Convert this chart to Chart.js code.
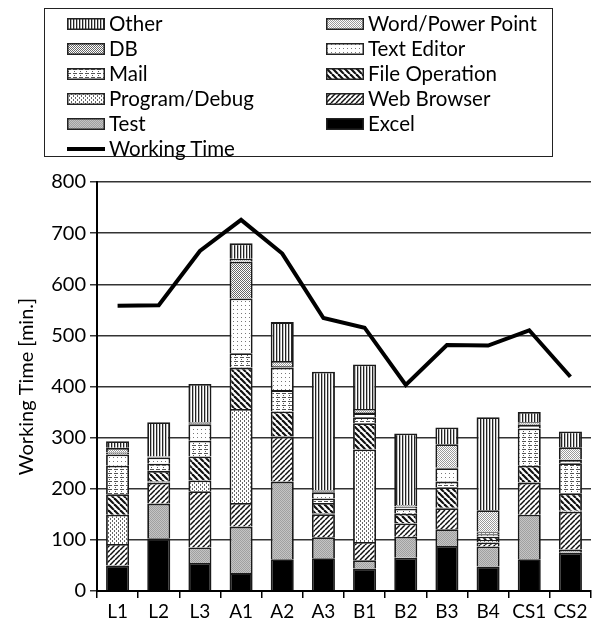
<!DOCTYPE html>
<html>
<head>
<meta charset="utf-8">
<script src="https://cdn.jsdelivr.net/npm/chart.js@4/dist/chart.umd.min.js"></script>
<style>
  html, body { margin: 0; padding: 0; background: #fff; }
  #wrap { position: relative; width: 594px; height: 632px; overflow: hidden; }
  #c { position: absolute; left: 0; top: 0; }
  #legend { position: absolute; left: 44px; top: 8px; width: 509px; height: 149px;
    border: 1.5px solid #222; box-sizing: border-box; font-family: Lato, sans-serif; font-size: 20.5px; color: #000; }
  .item { position: absolute; height: 25px; line-height: 25px; white-space: nowrap; }
  .item canvas { position: absolute; top: 7px; left: 0; }
  .item span { position: absolute; left: 42px; top: 0; }
</style>
</head>
<body>
<div id="wrap">
  <canvas id="c" width="594" height="632"></canvas>
  <div id="legend"></div>
</div>
<script>
const categories = ['L1','L2','L3','A1','A2','A3','B1','B2','B3','B4','CS1','CS2'];
const excel          = [50,103,55,35,62,64,44,65,88,48,62,75];
const test           = [0,68,30,91,152,41,16,41,33,39,87,6];
const webBrowser     = [42,41,110,46,88,45,36,26,41,8,63,74];
const programDebug   = [57,2,21,184,1,2,181,1,1,5,1,2];
const fileOperation  = [40,21,47,81,48,20,51,18,40,6,32,34];
const mail           = [56,14,31,28,42,9,12,10,11,5,73,59];
const textEditor     = [22,12,32,107,44,12,8,4,26,4,7,6];
const db             = [4,1,2,72,3,2,2,1,1,1,2,1];
const wordPowerPoint = [9,1,2,6,10,2,6,2,46,42,3,24];
const other          = [13,67,75,30,76,232,87,140,33,182,20,31];
const workingTime    = [558,559,665,726,660,534,515,403,481,480,510,419];
const yTicks = [0,100,200,300,400,500,600,700,800];

// ---- patterns ----
function pat(w, h, draw) {
  const c = document.createElement('canvas');
  c.width = w; c.height = h;
  const x = c.getContext('2d');
  x.fillStyle = '#fff'; x.fillRect(0, 0, w, h);
  draw(x);
  return document.createElement('canvas').getContext('2d').createPattern(c, 'repeat');
}
function px(x, col, pts) { x.fillStyle = col; pts.forEach(p => x.fillRect(p[0], p[1], 1, 1)); }
const patterns = {
  excel: '#000',
  test: pat(2, 2, x => { x.fillStyle = '#c4c4c4'; x.fillRect(0,0,2,2); px(x, '#a0a0a0', [[0,0],[1,1]]); }),
  web: pat(5, 5, x => { x.strokeStyle = '#111'; x.lineWidth = 1.5;
    for (let k = -5; k <= 10; k += 5) { x.beginPath(); x.moveTo(k, 5); x.lineTo(k + 5, 0); x.stroke(); } }),
  pd: pat(4, 4, x => px(x, '#666', [[0,0],[0,1],[2,2],[2,3]])),
  fo: pat(6, 6, x => { x.strokeStyle = '#111'; x.lineWidth = 2.2;
    for (let k = -6; k <= 12; k += 6) { x.beginPath(); x.moveTo(k, 0); x.lineTo(k + 6, 6); x.stroke(); } }),
  mail: pat(6, 4, x => px(x, '#555', [[0,1],[1,1],[2,1],[3,1],[1,3]])),
  te: pat(4, 4, x => px(x, '#777', [[1,1]])),
  db: pat(2, 2, x => px(x, '#666', [[0,0],[1,1]])),
  word: pat(2, 2, x => px(x, '#9a9a9a', [[0,0],[1,1]])),
  other: pat(3, 1, x => { px(x, '#222', [[0,0]]); px(x, '#bbb', [[1,0]]); })
};

const series = [
  { label: 'Excel', data: excel, bg: patterns.excel },
  { label: 'Test', data: test, bg: patterns.test },
  { label: 'Web Browser', data: webBrowser, bg: patterns.web },
  { label: 'Program/Debug', data: programDebug, bg: patterns.pd },
  { label: 'File Operation', data: fileOperation, bg: patterns.fo },
  { label: 'Mail', data: mail, bg: patterns.mail },
  { label: 'Text Editor', data: textEditor, bg: patterns.te },
  { label: 'DB', data: db, bg: patterns.db },
  { label: 'Word/Power Point', data: wordPowerPoint, bg: patterns.word },
  { label: 'Other', data: other, bg: patterns.other }
];

const datasets = series.map(s => ({
  type: 'bar', label: s.label, data: s.data, backgroundColor: s.bg,
  borderColor: '#1a1a1a', borderWidth: 1.8, stack: 'apps',
  barPercentage: 0.56, categoryPercentage: 1.0, order: 2
}));
datasets.push({
  type: 'line', label: 'Working Time', data: workingTime, borderColor: '#000',
  borderWidth: 4, pointRadius: 0, tension: 0, fill: false, stack: 'wt', order: 1,
  borderJoinStyle: 'miter'
});

Chart.defaults.font.family = 'Lato, sans-serif';
Chart.defaults.color = '#000';

new Chart(document.getElementById('c'), {
  data: { labels: categories, datasets },
  options: {
    responsive: false, animation: false,
    layout: { padding: { top: 182, right: 3, bottom: 0, left: 0 } },
    plugins: { legend: { display: false }, tooltip: { enabled: false } },
    scales: {
      x: {
        stacked: true, offset: true,
        grid: { display: true, drawOnChartArea: false, tickLength: 7, color: '#000', lineWidth: 1.5, offset: true },
        border: { color: '#000', width: 2 },
        ticks: { font: { size: 19 }, padding: 2 },
        afterFit: s => { s.height = 41; }
      },
      y: {
        stacked: true, min: 0, max: 800,
        afterBuildTicks: s => { s.ticks = yTicks.map(v => ({ value: v })); },
        grid: { color: '#333', lineWidth: 1.5, tickLength: 7 },
        border: { color: '#000', width: 2 },
        ticks: { font: { size: 20 }, padding: 4 },
        title: { display: true, text: 'Working Time [min.]', font: { size: 20 }, padding: { top: 15, bottom: 0 } },
        afterFit: s => { s.width = 97; }
      }
    }
  }
});

// ---- HTML legend (two columns, row-major) ----
const legendOrder = ['Other','Word/Power Point','DB','Text Editor','Mail','File Operation','Program/Debug','Web Browser','Test','Excel','Working Time'];
const leg = document.getElementById('legend');
legendOrder.forEach((name, i) => {
  const col = i % 2, row = Math.floor(i / 2);
  const d = document.createElement('div');
  d.className = 'item';
  d.style.left = (col === 0 ? 22 : 281) + 'px';
  d.style.top = (2 + row * 25) + 'px';
  const cv = document.createElement('canvas');
  cv.width = 38; cv.height = 12;
  const g = cv.getContext('2d');
  const s = series.find(q => q.label === name);
  if (s) {
    g.fillStyle = s.bg; g.fillRect(0, 0, 38, 12);
    g.strokeStyle = '#222'; g.lineWidth = 1.5; g.strokeRect(0.75, 0.75, 36.5, 10.5);
  } else {
    g.fillStyle = '#000'; g.fillRect(0, 4, 38, 4);
  }
  const sp = document.createElement('span');
  sp.textContent = name;
  d.appendChild(cv); d.appendChild(sp);
  leg.appendChild(d);
});
</script>
</body>
</html>
